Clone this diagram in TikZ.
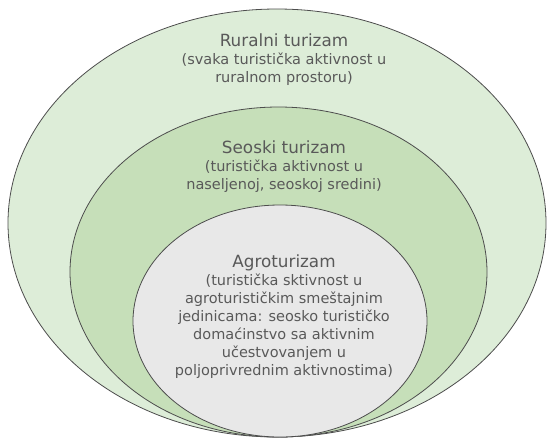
\documentclass[tikz,border=0pt]{standalone}
\usepackage{fontspec}
\setmainfont{DejaVu Sans}
\usetikzlibrary{shapes.geometric, positioning}
\definecolor{ruralfill}{HTML}{DDEDD8}
\definecolor{seoskifill}{HTML}{C6DFB9}
\definecolor{agrofill}{HTML}{E8E8E8}
\definecolor{textgray}{HTML}{595959}
\definecolor{linegray}{HTML}{4D4D4D}
\tikzset{
  % zone styles
  zone/.style={ellipse, draw=linegray, line width=0.8pt, fill=#1, inner sep=0pt},
  zone/.default={ruralfill},
  zonetext/.style={anchor=north, align=center, text=textgray, inner sep=0pt, font=\fontsize{14.5}{18}\selectfont},
}
\newcommand{\zonetitle}[1]{{\fontsize{16.8}{18}\selectfont #1}}

\begin{document}
\begin{tikzpicture}[x=1pt, y=-1pt]
    \useasboundingbox (0,0) rectangle (547,440);

    % Zones
    \node[zone=ruralfill, minimum width=538pt, minimum height=428pt] (rural) at (277,223) {};
    \node[zone=seoskifill, minimum width=417pt, minimum height=330pt] (seoski) at (278.5,272) {};
    \node[zone=agrofill, minimum width=294pt, minimum height=232pt] (agro) at (280,321) {};

    % Labels
    \node[zonetext] (ruraltext) at (284,34) {\zonetitle{Ruralni turizam}\\(svaka turistička aktivnost u\\ruralnom prostoru)};
    \node[zonetext] (seoskitext) at (284,141) {\zonetitle{Seoski turizam}\\(turistička aktivnost u\\naseljenoj, seoskoj sredini)};
    \node[zonetext] (agrotext) at (284,255) {\zonetitle{Agroturizam}\\(turistička sktivnost u\\agroturističkim smeštajnim\\jedinicama: seosko turističko\\domaćinstvo sa aktivnim\\učestvovanjem u\\poljoprivrednim aktivnostima)};
\end{tikzpicture}
\end{document}
